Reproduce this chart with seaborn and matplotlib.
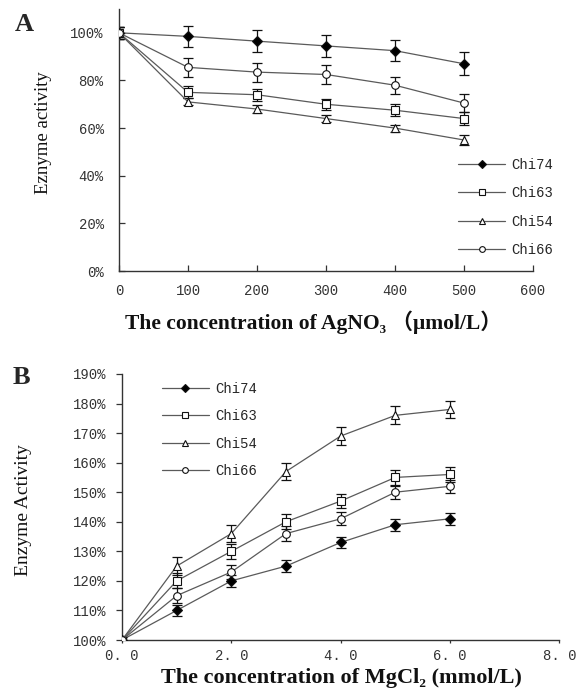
import pandas as pd
import matplotlib
matplotlib.use("Agg")
import matplotlib.pyplot as plt
import seaborn as sns

# Panel A: AgNO3
ag_conc = [0, 100, 200, 300, 400, 500]
ag_chi74 = [100, 98.5, 96.5, 94.5, 92.5, 87]
ag_chi63 = [100, 75, 74, 70, 67.5, 64]
ag_chi54 = [100, 71, 68, 64, 60, 55]
ag_chi66 = [100, 85.5, 83.5, 82.5, 78, 70.5]
ag_err74 = [2.5, 4.5, 4.5, 4.5, 4.5, 4.8]
ag_err63 = [2.5, 2.5, 2.5, 2.3, 2.5, 2.6]
ag_err54 = [2.5, 1.5, 1.5, 1.5, 1.5, 2.2]
ag_err66 = [2.5, 4, 4, 4, 3.6, 3.6]

# Panel B: MgCl2
mg_conc = [0, 1, 2, 3, 4, 5, 6]
mg_chi74 = [100, 110, 120, 125, 133, 139, 141]
mg_chi63 = [100, 120, 130, 140, 147, 155, 156]
mg_chi54 = [100, 125, 136, 157, 169, 176, 178]
mg_chi66 = [100, 115, 123, 136, 141, 150, 152]
mg_err74 = [1, 2, 2, 2, 2, 2, 2]
mg_err63 = [1, 2.5, 2.5, 2.5, 2.5, 2.4, 2.5]
mg_err54 = [1, 3, 3, 2.8, 3, 3, 3]
mg_err66 = [1, 2.5, 2.5, 2.5, 2.2, 2.2, 2.2]

names = ["Chi74", "Chi63", "Chi54", "Chi66"]
markers = {"Chi74": "D", "Chi63": "s", "Chi54": "^", "Chi66": "o"}
faces = {"Chi74": "black", "Chi63": "white", "Chi54": "white", "Chi66": "white"}
msize = {"Chi74": 5, "Chi63": 5.8, "Chi54": 6, "Chi66": 5.5}

sns.set_theme(style="white")
plt.rcParams["font.family"] = ["Liberation Serif", "DejaVu Serif", "Noto Sans CJK SC"]
tick_font = "Liberation Mono"

fig = plt.figure(figsize=(5.82, 6.91), dpi=100)
ax_a = fig.add_axes([0.2045, 0.6078, 0.7113, 0.3792])
ax_b = fig.add_axes([0.2096, 0.0738, 0.7514, 0.3850])


def draw(ax, x, series, errs):
    for name in names:
        y = [v / 100 for v in series[name]]
        e = [v / 100 for v in errs[name]]
        ax.errorbar(x, y, yerr=e, fmt="none", ecolor="#111111", elinewidth=0.9,
                    capsize=3.8, capthick=0.9, zorder=2)
        sns.lineplot(x=x, y=y, ax=ax, color="#5a5a5a", linewidth=0.9,
                     marker=markers[name], markersize=msize[name],
                     markerfacecolor=faces[name], markeredgecolor="#111111",
                     markeredgewidth=0.8, label=name, zorder=3)


draw(ax_a, ag_conc,
     {"Chi74": ag_chi74, "Chi63": ag_chi63, "Chi54": ag_chi54, "Chi66": ag_chi66},
     {"Chi74": ag_err74, "Chi63": ag_err63, "Chi54": ag_err54, "Chi66": ag_err66})
draw(ax_b, mg_conc,
     {"Chi74": mg_chi74, "Chi63": mg_chi63, "Chi54": mg_chi54, "Chi66": mg_chi66},
     {"Chi74": mg_err74, "Chi63": mg_err63, "Chi54": mg_err54, "Chi66": mg_err66})

for ax in (ax_a, ax_b):
    sns.despine(ax=ax)
    for s in ("left", "bottom"):
        ax.spines[s].set_color("#333333")
        ax.spines[s].set_linewidth(1.0)
    ax.grid(False)

# panel A axes
ax_a.set_xlim(0, 600)
ax_a.set_ylim(0, 1.1)
ax_a.set_xticks([0, 100, 200, 300, 400, 500, 600])
ax_a.set_xticklabels(["0", "100", "200", "300", "400", "500", "600"])
ax_a.set_yticks([0, 0.2, 0.4, 0.6, 0.8, 1.0])
ax_a.set_yticklabels(["0%", "20%", "40%", "60%", "80%", "100%"])
ax_a.tick_params(axis="both", direction="in", length=4, width=0.9, color="#333333",
                 labelsize=10, labelcolor="#333333")
ax_a.tick_params(axis="y", pad=11, left=True)
ax_a.tick_params(axis="x", pad=9, bottom=True)

# panel B axes
ax_b.set_xlim(0, 8)
ax_b.set_ylim(1.0, 1.9)
ax_b.set_xticks([0, 2, 4, 6, 8])
ax_b.set_xticklabels(["0. 0", "2. 0", "4. 0", "6. 0", "8. 0"])
ax_b.set_yticks([1.0, 1.1, 1.2, 1.3, 1.4, 1.5, 1.6, 1.7, 1.8, 1.9])
ax_b.set_yticklabels(["100%", "110%", "120%", "130%", "140%", "150%",
                      "160%", "170%", "180%", "190%"])
ax_b.tick_params(axis="both", direction="out", width=0.9, color="#333333",
                 labelsize=10, labelcolor="#333333")
ax_b.tick_params(axis="y", length=4.5, pad=7, left=True)
ax_b.tick_params(axis="x", length=2.5, pad=4, bottom=True)

for ax in (ax_a, ax_b):
    for lab in ax.get_xticklabels() + ax.get_yticklabels():
        lab.set_fontfamily(tick_font)

# labels
ax_a.set_xlabel("The concentration of AgNO\u2083 \uff08\u03bcmol/L\uff09",
                fontsize=15.5, fontweight="bold", color="#111111")
ax_a.xaxis.set_label_coords(0.47, -0.195)
ax_a.xaxis.label.set_va("center")
ax_a.set_ylabel("Eznyme activity", fontsize=13.5, color="#111111")
ax_a.yaxis.set_label_coords(-0.183, 0.53)
ax_a.yaxis.label.set_va("center")

ax_b.set_xlabel("The concentration of MgCl\u2082 (mmol/L)",
                fontsize=16, fontweight="bold", color="#111111")
ax_b.xaxis.set_label_coords(0.502, -0.143)
ax_b.xaxis.label.set_va("center")
ax_b.set_ylabel("Enzyme Activity", fontsize=14, color="#111111")
ax_b.yaxis.set_label_coords(-0.225, 0.49)
ax_b.yaxis.label.set_va("center")

fig.text(0.041, 0.965, "A", fontsize=19, fontweight="bold", ha="center", va="center")
fig.text(0.036, 0.454, "B", fontsize=19, fontweight="bold", ha="center", va="center")

# legends
for ax, anchor, spacing in ((ax_a, (0.787, 0.772), 1.05), (ax_b, (0.278, 0.447), 0.95)):
    ax.legend(loc="upper left", bbox_to_anchor=anchor, bbox_transform=fig.transFigure,
              frameon=False, borderpad=0, borderaxespad=0, handlelength=3.4,
              handletextpad=0.45, labelspacing=spacing, markerscale=0.75,
              prop={"family": tick_font, "size": 10})

fig.savefig("out.png", dpi=100)
